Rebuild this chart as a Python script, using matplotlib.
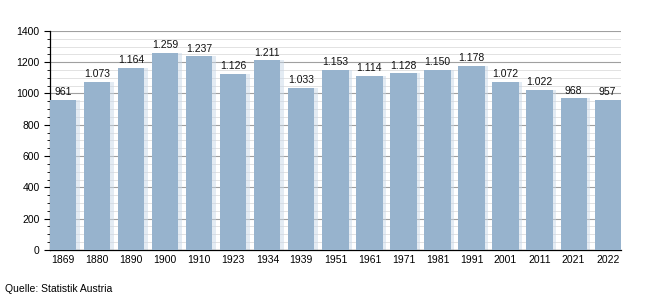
import matplotlib.pyplot as plt
from matplotlib.ticker import MultipleLocator

plt.rcParams['font.family'] = ['Liberation Sans', 'DejaVu Sans']

years = ['1869', '1880', '1890', '1900', '1910', '1923', '1934', '1939', '1951',
         '1961', '1971', '1981', '1991', '2001', '2011', '2021', '2022']
population = [961, 1073, 1164, 1259, 1237, 1126, 1211, 1033, 1153,
              1114, 1128, 1150, 1178, 1072, 1022, 968, 957]
labels = ['961', '1.073', '1.164', '1.259', '1.237', '1.126', '1.211', '1.033', '1.153',
          '1.114', '1.128', '1.150', '1.178', '1.072', '1.022', '968', '957']

fig = plt.figure(figsize=(6.5, 3), dpi=100)
ax = fig.add_axes([0.077, 0.167, 0.878, 0.73])

x = list(range(len(years)))
w = 0.77
# soft glow to the right of each bar
ax.bar([i + 0.1 for i in x], population, width=w, color='#c9d8e8', alpha=0.5, zorder=2)
ax.bar(x, population, width=w, color='#97b3cd', zorder=3)

for i, v in enumerate(population):
    ax.text(i, v + 18, labels[i], ha='center', va='bottom', fontsize=7.5, color='#111111', zorder=4)

ax.set_xlim(-w / 2, len(years) - 1 + w / 2)
ax.set_ylim(0, 1400)
ax.set_xticks(x)
ax.set_xticklabels(years, fontsize=7.5)
ax.tick_params(axis='x', length=0, pad=4)
ax.yaxis.set_major_locator(MultipleLocator(200))
ax.yaxis.set_minor_locator(MultipleLocator(50))
ax.tick_params(axis='y', which='major', length=4, labelsize=7.5, width=0.8)
ax.tick_params(axis='y', which='minor', length=2, width=0.6)

ax.grid(axis='y', which='major', color='#a0a0a0', linewidth=0.8, zorder=0)
ax.grid(axis='y', which='minor', color='#dddddd', linewidth=0.6, zorder=0)
ax.set_axisbelow(True)

for s in ['top', 'right']:
    ax.spines[s].set_visible(False)
ax.spines['left'].set_linewidth(0.9)
ax.spines['bottom'].set_linewidth(0.9)

fig.text(0.008, 0.035, 'Quelle: Statistik Austria', fontsize=7.5, ha='left', va='center')

fig.savefig('out.png', dpi=100)
